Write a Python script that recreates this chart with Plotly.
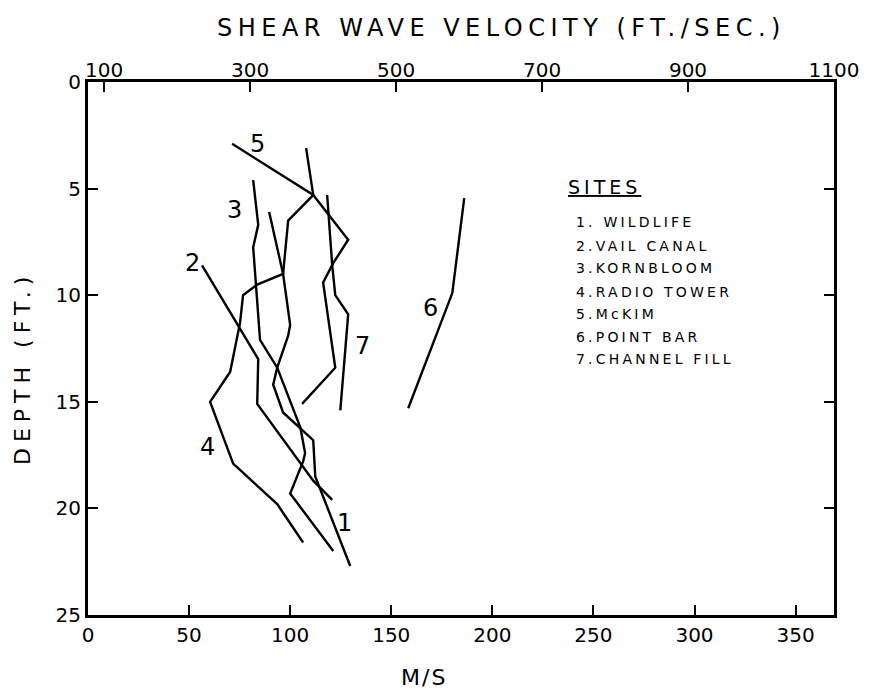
import plotly.graph_objects as go

# ---- data (velocity in m/s, depth in ft) ----
site1_vel = [89.6, 96.5, 100.0, 99.0, 93.6, 91.6, 96.5, 111.4, 112.4, 129.7]
site1_dep = [6.1, 9.0, 11.4, 11.9, 13.4, 14.2, 15.5, 16.8, 18.5, 22.7]

site2_vel = [56.4, 84.2, 83.7, 111.4, 120.8]
site2_dep = [8.6, 13.0, 15.1, 18.7, 19.6]

site3_vel = [81.7, 84.2, 81.7, 85.1, 93.6, 105.0, 107.4, 106.4, 100.0, 121.3]
site3_dep = [4.6, 6.7, 7.75, 12.1, 13.4, 16.2, 17.4, 17.8, 19.3, 22.0]

site4_vel = [107.9, 111.4, 99.0, 96.5, 83.7, 76.7, 75.2, 70.3, 60.4, 71.8, 93.6, 106.4]
site4_dep = [3.1, 5.3, 6.5, 9.0, 9.5, 10.0, 11.3, 13.6, 15.0, 17.9, 19.8, 21.6]

site5_vel = [71.3, 111.4, 128.7, 121.3, 116.3, 122.3, 105.9]
site5_dep = [2.9, 5.3, 7.4, 8.5, 9.4, 13.4, 15.1]

site6_vel = [186.1, 180.2, 158.4]
site6_dep = [5.45, 9.9, 15.3]

site7_vel = [118.3, 120.8, 122.3, 128.7, 124.8]
site7_dep = [5.3, 8.6, 10.0, 10.9, 15.4]

site_names = ["1. WILDLIFE", "2.VAIL CANAL", "3.KORNBLOOM", "4.RADIO TOWER",
              "5.McKIM", "6.POINT BAR", "7.CHANNEL FILL"]
# curve label anchor positions (m/s, ft)
label_text = ["1", "2", "3", "4", "5", "6", "7"]
label_vel = [127.0, 51.5, 72.7, 59.0, 83.7, 169.2, 135.6]
label_dep = [20.7, 8.5, 6.0, 17.1, 2.9, 10.6, 12.4]

ms_ticks = [0, 50, 100, 150, 200, 250, 300, 350]
fts_ticks = [100, 300, 500, 700, 900, 1100]
depth_ticks = [0, 5, 10, 15, 20, 25]

FONT = "DejaVu Sans"
fig = go.Figure()
sites = [(site1_vel, site1_dep), (site2_vel, site2_dep), (site3_vel, site3_dep),
         (site4_vel, site4_dep), (site5_vel, site5_dep), (site6_vel, site6_dep),
         (site7_vel, site7_dep)]
for (v, d), name in zip(sites, site_names):
    fig.add_trace(go.Scatter(x=v, y=d, mode="lines", name=name,
                             line=dict(color="black", width=2.4),
                             showlegend=False, hoverinfo="skip"))

# invisible anchor so the top (ft/sec) axis is drawn
fig.add_trace(go.Scatter(x=[fts_ticks[0]], y=[depth_ticks[0]], xaxis="x2",
                         mode="markers", marker=dict(opacity=0),
                         showlegend=False, hoverinfo="skip"))

for t, v, d in zip(label_text, label_vel, label_dep):
    fig.add_annotation(x=v, y=d, xref="x", yref="y", text=t, showarrow=False,
                       xanchor="center", yanchor="middle",
                       font=dict(family=FONT, size=24, color="black"))

L, R, T, B = 88, 834, 82, 615
W, H = 874, 694
def px(xp):
    return (xp - L) / (R - L)
def py(yp):
    return (B - yp) / (B - T)

def spaced(s, sp):
    return '<span style="letter-spacing:%spx">%s</span>' % (sp, s)

# titles
fig.add_annotation(x=px(501), y=py(28), xref="paper", yref="paper",
                   text=spaced("SHEAR WAVE VELOCITY (FT./SEC.)", 5.5),
                   showarrow=False, xanchor="center", yanchor="middle",
                   font=dict(family=FONT, size=24, color="black"))
fig.add_annotation(x=px(424), y=py(677), xref="paper", yref="paper",
                   text=spaced("M/S", 2), showarrow=False,
                   xanchor="center", yanchor="middle",
                   font=dict(family=FONT, size=22, color="black"))
fig.add_annotation(x=px(22), y=py(368), xref="paper", yref="paper",
                   text=spaced("DEPTH (FT.)", 6), showarrow=False, textangle=-90,
                   xanchor="center", yanchor="middle",
                   font=dict(family=FONT, size=22, color="black"))

# site key
fig.add_annotation(x=px(566), y=py(187), xref="paper", yref="paper",
                   text="<u>" + spaced("SITES", 4) + "</u>", showarrow=False,
                   xanchor="left", yanchor="middle",
                   font=dict(family=FONT, size=19, color="black"))
key_y = [222, 246, 268, 292, 314, 337, 359]
for name, yk in zip(site_names, key_y):
    fig.add_annotation(x=px(574), y=py(yk), xref="paper", yref="paper",
                       text=spaced(name, 3.2), showarrow=False,
                       xanchor="left", yanchor="middle",
                       font=dict(family=FONT, size=14, color="black"))

fig.update_layout(
    width=W, height=H,
    margin=dict(l=L, r=W - R, t=T, b=H - B),
    paper_bgcolor="white", plot_bgcolor="white",
    font=dict(family=FONT, size=20, color="black"),
    xaxis=dict(range=[0, 369], tickvals=ms_ticks, ticks="inside", ticklen=10,
               tickwidth=2, tickcolor="black", showline=True, linewidth=3,
               linecolor="black", mirror=True, showgrid=False, zeroline=False,
               tickfont=dict(family=FONT, size=20)),
    xaxis2=dict(range=[78, 1100], tickvals=fts_ticks, ticks="inside", ticklen=10,
                tickwidth=2, tickcolor="black", overlaying="x", side="top",
                showline=False, showgrid=False, zeroline=False,
                tickfont=dict(family=FONT, size=20)),
    yaxis=dict(range=[25, 0], tickvals=depth_ticks, ticks="inside", ticklen=10,
               tickwidth=2, tickcolor="black", showline=True, linewidth=3,
               linecolor="black", mirror="ticks", showgrid=False, zeroline=False,
               tickfont=dict(family=FONT, size=20)),
)
fig.write_html("out.html")
